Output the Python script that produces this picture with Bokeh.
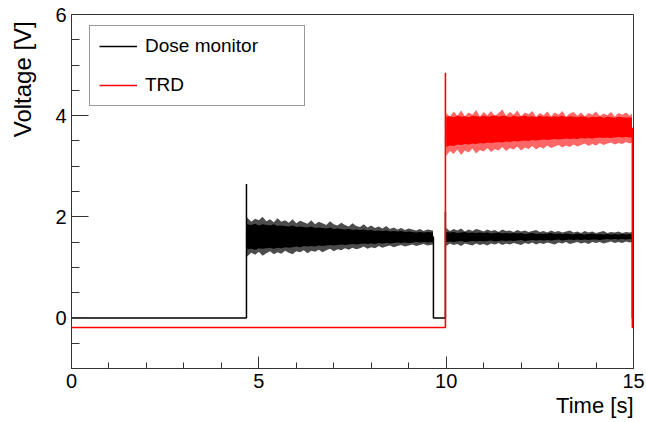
import math
from bokeh.plotting import figure
from bokeh.layouts import row
from bokeh.models import Range1d, FixedTicker, Legend, LegendItem, Title
from bokeh.core.properties import value
from bokeh.embed import file_html
from bokeh.resources import INLINE

# ---- axis ticks ----
x_major = [0, 5, 10, 15]
x_minor = [1, 2, 3, 4, 6, 7, 8, 9, 11, 12, 13, 14]
y_major = [0, 2, 4, 6]
y_minor = [-1, -0.5, 0.5, 1, 1.5, 2.5, 3, 3.5, 4.5, 5, 5.5]

# ---- Dose monitor (step outline) ----
dose_step_t = [0, 4.67, 4.67, 4.67, 9.66, 9.66, 9.98, 9.98, 9.98, 14.97, 14.97, 15.0]
dose_step_v = [0.0, 0.0, 2.65, 1.60, 1.60, 0.0, 0.0, 2.10, 1.60, 1.60, 0.0, 0.0]

# Dose monitor noise envelope, beam 1 (outer spikes and dense core)
dose1_t = [4.68, 4.8, 4.9, 5.0, 5.1, 5.2, 5.3, 5.4, 5.5, 5.6,
           5.7, 5.8, 5.9, 6.0, 6.1, 6.2, 6.3, 6.4, 6.5, 6.6,
           6.7, 6.8, 6.9, 7.0, 7.1, 7.2, 7.3, 7.4, 7.5, 7.6,
           7.7, 7.8, 7.9, 8.0, 8.1, 8.2, 8.3, 8.4, 8.5, 8.6,
           8.7, 8.8, 8.9, 9.0, 9.1, 9.2, 9.3, 9.4, 9.5, 9.65]
dose1_hi = [1.99, 1.90, 1.96, 1.93, 2.00, 1.91, 1.95, 1.89, 1.97, 1.90,
            1.93, 1.88, 1.95, 1.87, 1.92, 1.89, 1.86, 1.93, 1.85, 1.90,
            1.87, 1.84, 1.91, 1.85, 1.83, 1.88, 1.84, 1.81, 1.87, 1.82,
            1.80, 1.85, 1.79, 1.83, 1.78, 1.81, 1.77, 1.82, 1.76, 1.79,
            1.75, 1.78, 1.74, 1.77, 1.75, 1.73, 1.76, 1.72, 1.75, 1.73]
dose1_lo = [1.21, 1.29, 1.25, 1.31, 1.23, 1.28, 1.32, 1.26, 1.30, 1.27,
            1.33, 1.29, 1.26, 1.32, 1.30, 1.34, 1.28, 1.33, 1.31, 1.35,
            1.30, 1.34, 1.37, 1.32, 1.36, 1.34, 1.38, 1.35, 1.39, 1.36,
            1.38, 1.41, 1.37, 1.40, 1.38, 1.42, 1.39, 1.41, 1.43, 1.40,
            1.42, 1.44, 1.41, 1.43, 1.45, 1.42, 1.44, 1.46, 1.43, 1.45]
dose1_core_hi = [1.85, 1.84, 1.86, 1.83, 1.85, 1.84, 1.83, 1.85, 1.82, 1.83,
                 1.82, 1.81, 1.83, 1.80, 1.81, 1.80, 1.79, 1.81, 1.78, 1.79,
                 1.78, 1.77, 1.79, 1.76, 1.77, 1.76, 1.75, 1.76, 1.74, 1.75,
                 1.74, 1.75, 1.73, 1.74, 1.72, 1.73, 1.72, 1.73, 1.71, 1.72,
                 1.71, 1.72, 1.70, 1.71, 1.70, 1.69, 1.70, 1.69, 1.70, 1.69]
dose1_core_lo = [1.36, 1.37, 1.35, 1.38, 1.37, 1.38, 1.39, 1.37, 1.39, 1.38,
                 1.40, 1.39, 1.40, 1.41, 1.40, 1.42, 1.41, 1.42, 1.41, 1.43,
                 1.42, 1.43, 1.44, 1.43, 1.44, 1.45, 1.44, 1.45, 1.46, 1.45,
                 1.46, 1.47, 1.46, 1.47, 1.46, 1.48, 1.47, 1.48, 1.47, 1.48,
                 1.49, 1.48, 1.49, 1.48, 1.49, 1.50, 1.49, 1.50, 1.49, 1.50]

# Beam 2 time base (shared by Dose monitor and TRD)
beam2_t = [10.0, 10.1, 10.2, 10.3, 10.4, 10.5, 10.6, 10.7, 10.8, 10.9,
           11.0, 11.1, 11.2, 11.3, 11.4, 11.5, 11.6, 11.7, 11.8, 11.9,
           12.0, 12.1, 12.2, 12.3, 12.4, 12.5, 12.6, 12.7, 12.8, 12.9,
           13.0, 13.1, 13.2, 13.3, 13.4, 13.5, 13.6, 13.7, 13.8, 13.9,
           14.0, 14.1, 14.2, 14.3, 14.4, 14.5, 14.6, 14.7, 14.8, 14.9,
           14.96]
dose2_hi = [1.78, 1.72, 1.76, 1.73, 1.77, 1.71, 1.75, 1.72, 1.76, 1.74,
            1.71, 1.75, 1.72, 1.74, 1.70, 1.75, 1.72, 1.73, 1.70, 1.74,
            1.71, 1.73, 1.70, 1.72, 1.74, 1.70, 1.72, 1.69, 1.73, 1.70,
            1.72, 1.69, 1.71, 1.73, 1.69, 1.71, 1.68, 1.72, 1.69, 1.71,
            1.68, 1.70, 1.72, 1.68, 1.70, 1.69, 1.71, 1.68, 1.70, 1.69,
            1.70]
dose2_lo = [1.42, 1.47, 1.44, 1.46, 1.42, 1.47, 1.45, 1.43, 1.47, 1.44,
            1.46, 1.43, 1.47, 1.45, 1.48, 1.44, 1.47, 1.45, 1.48, 1.46,
            1.44, 1.48, 1.46, 1.49, 1.45, 1.48, 1.46, 1.49, 1.47, 1.45,
            1.49, 1.47, 1.50, 1.46, 1.48, 1.50, 1.47, 1.49, 1.46, 1.50,
            1.48, 1.50, 1.47, 1.49, 1.51, 1.48, 1.50, 1.48, 1.51, 1.49,
            1.50]
dose2_core_hi = [1.70, 1.69, 1.70, 1.68, 1.69, 1.70, 1.68, 1.69, 1.68, 1.69,
                 1.68, 1.69, 1.67, 1.68, 1.69, 1.67, 1.68, 1.67, 1.68, 1.67,
                 1.68, 1.66, 1.67, 1.68, 1.66, 1.67, 1.66, 1.67, 1.68, 1.66,
                 1.67, 1.66, 1.67, 1.66, 1.65, 1.67, 1.66, 1.65, 1.66, 1.67,
                 1.65, 1.66, 1.65, 1.66, 1.65, 1.66, 1.65, 1.66, 1.65, 1.66,
                 1.65]
dose2_core_lo = [1.50, 1.51, 1.50, 1.51, 1.52, 1.50, 1.51, 1.52, 1.51, 1.52,
                 1.51, 1.52, 1.53, 1.51, 1.52, 1.53, 1.52, 1.53, 1.52, 1.53,
                 1.54, 1.52, 1.53, 1.54, 1.53, 1.54, 1.53, 1.54, 1.53, 1.54,
                 1.55, 1.53, 1.54, 1.55, 1.54, 1.55, 1.54, 1.55, 1.54, 1.55,
                 1.55, 1.54, 1.55, 1.56, 1.55, 1.56, 1.55, 1.56, 1.55, 1.56,
                 1.55]

# ---- TRD ----
trd_step_t = [0, 9.98, 9.98, 9.98, 14.97, 14.97, 15.0]
trd_step_v = [-0.19, -0.19, 4.85, 3.70, 3.75, -0.19, -0.19]
trd_hi = [4.05, 3.98, 4.08, 4.00, 4.10, 3.99, 4.06, 4.02, 4.11, 3.98,
          4.07, 4.01, 4.09, 3.99, 4.05, 4.12, 4.00, 4.07, 4.02, 4.10,
          3.99, 4.06, 4.03, 4.09, 3.98, 4.05, 4.01, 4.08, 3.99, 4.06,
          4.02, 4.09, 3.98, 4.04, 4.07, 4.00, 4.06, 3.99, 4.05, 4.02,
          4.08, 3.99, 4.04, 4.01, 4.07, 3.98, 4.05, 4.02, 4.06, 4.00,
          4.04]
trd_lo = [3.20, 3.30, 3.24, 3.33, 3.22, 3.31, 3.27, 3.35, 3.25, 3.32,
          3.29, 3.36, 3.28, 3.34, 3.31, 3.38, 3.30, 3.36, 3.33, 3.39,
          3.31, 3.37, 3.34, 3.40, 3.33, 3.38, 3.35, 3.41, 3.36, 3.39,
          3.42, 3.37, 3.41, 3.38, 3.43, 3.39, 3.42, 3.45, 3.40, 3.44,
          3.41, 3.46, 3.42, 3.45, 3.47, 3.43, 3.46, 3.44, 3.48, 3.45,
          3.47]
trd_core_hi = [3.98, 3.99, 3.97, 4.00, 3.98, 3.99, 3.97, 4.00, 3.99, 3.98,
               4.00, 3.98, 3.99, 4.01, 3.98, 4.00, 3.99, 3.97, 4.00, 3.98,
               3.99, 4.00, 3.98, 3.99, 3.97, 4.00, 3.98, 3.99, 3.97, 3.99,
               3.98, 4.00, 3.97, 3.99, 3.98, 3.97, 3.99, 3.98, 3.96, 3.98,
               3.97, 3.99, 3.96, 3.98, 3.97, 3.96, 3.98, 3.97, 3.96, 3.97,
               3.96]
trd_core_lo = [3.38, 3.41, 3.40, 3.43, 3.42, 3.44, 3.43, 3.45, 3.44, 3.46,
               3.45, 3.47, 3.46, 3.47, 3.48, 3.47, 3.49, 3.48, 3.50, 3.49,
               3.50, 3.51, 3.50, 3.52, 3.51, 3.52, 3.53, 3.52, 3.53, 3.54,
               3.53, 3.54, 3.55, 3.54, 3.55, 3.54, 3.56, 3.55, 3.56, 3.55,
               3.56, 3.57, 3.56, 3.57, 3.56, 3.57, 3.58, 3.57, 3.58, 3.57,
               3.57]


def trim(*cols):
    n = min(len(c) for c in cols)
    return [c[:n] for c in cols]


FONT = "Liberation Sans"
AX = "#333333"
RED = "#ff0000"
TITLE_W = 40   # width of the strip that holds the y-axis title
H = 422

# ---- strip holding the y-axis title (ROOT style: end-aligned at the top) ----
ylab = figure(width=TITLE_W, height=H, output_backend="svg",
              toolbar_location=None, x_axis_type=None, y_axis_type=None,
              x_range=Range1d(0, TITLE_W), y_range=Range1d(0, H),
              min_border=0, title=None)
ylab.outline_line_color = None
ylab.grid.visible = False
ylab.background_fill_color = "white"
ylab.border_fill_color = "white"
ylab.text(x=[8], y=[H - 8], text=["Voltage [V]"], angle=math.pi / 2,
          text_align="right", text_baseline="top",
          text_font=value(FONT), text_font_size="24px", text_color="black")

# ---- main plot ----
p = figure(width=646 - TITLE_W, height=H, output_backend="svg",
           toolbar_location=None,
           x_range=Range1d(0, 15), y_range=Range1d(-1, 6), title=None,
           min_border_left=71 - TITLE_W, min_border_right=13,
           min_border_top=14, min_border_bottom=54)
p.grid.visible = False
p.outline_line_color = AX
p.outline_line_width = 1
p.background_fill_color = "white"
p.border_fill_color = "white"

for ax, maj, mnr, tin, tmin in ((p.xaxis[0], x_major, x_minor, 12, 6),
                                (p.yaxis[0], y_major, y_minor, 17, 8)):
    ax.ticker = FixedTicker(ticks=maj, minor_ticks=mnr)
    ax.major_tick_in = tin
    ax.major_tick_out = 0
    ax.minor_tick_in = tmin
    ax.minor_tick_out = 0
    ax.axis_line_color = AX
    ax.major_tick_line_color = AX
    ax.minor_tick_line_color = AX
    ax.major_label_text_font = FONT
    ax.major_label_text_font_size = "20px"
    ax.major_label_text_color = "black"
    ax.major_label_standoff = 5


def band(t, hi, lo, chi, clo, color, alpha):
    t, hi, lo, chi, clo = trim(t, hi, lo, chi, clo)
    p.varea(x=t, y1=lo, y2=hi, fill_color=color, fill_alpha=alpha)
    p.varea(x=t, y1=clo, y2=chi, fill_color=color, fill_alpha=1.0)


# Dose monitor
band(dose1_t, dose1_hi, dose1_lo, dose1_core_hi, dose1_core_lo, "black", 0.7)
band(beam2_t, dose2_hi, dose2_lo, dose2_core_hi, dose2_core_lo, "black", 0.7)
r_dose = p.line(x=dose_step_t, y=dose_step_v, line_color="black",
                line_width=1.5, line_alpha=1.0)

# TRD
band(beam2_t, trd_hi, trd_lo, trd_core_hi, trd_core_lo, RED, 0.6)
r_trd = p.line(x=trd_step_t, y=trd_step_v, line_color=RED,
               line_width=1.6, line_alpha=1.0)

legend = Legend(items=[LegendItem(label="Dose monitor", renderers=[r_dose]),
                       LegendItem(label="TRD", renderers=[r_trd])],
                location=(18, 262), orientation="vertical",
                label_text_font=FONT, label_text_font_size="19px",
                label_text_color="black",
                glyph_width=38, glyph_height=22, label_height=22,
                label_width=150, label_standoff=8, padding=9, spacing=17,
                margin=0, border_line_color=AX, border_line_width=1,
                background_fill_color="white", background_fill_alpha=1)
p.add_layout(legend)

p.add_layout(Title(text="Time [s]", align="right", text_font=FONT,
                   text_font_size="22px", text_font_style="normal",
                   text_color="black", standoff=0), "below")

layout = row(ylab, p, spacing=0)
open("out.html", "w").write(file_html(layout, INLINE))
